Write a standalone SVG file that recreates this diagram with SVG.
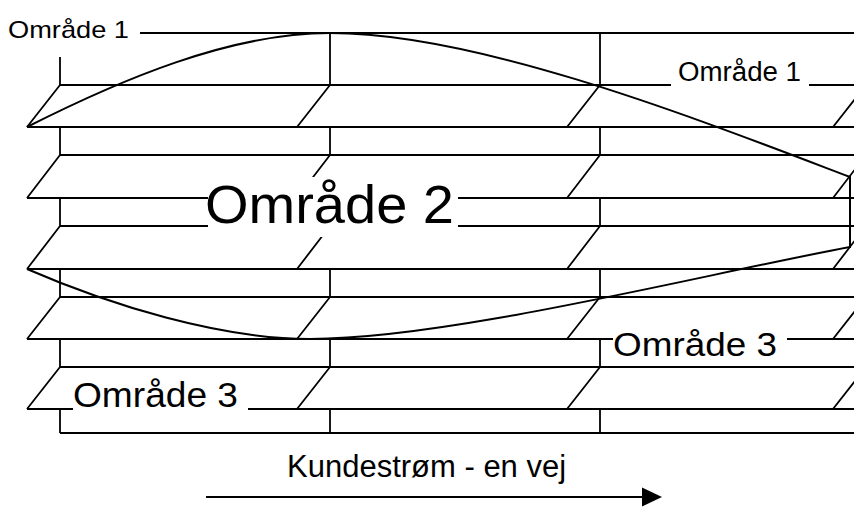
<svg xmlns="http://www.w3.org/2000/svg" width="854" height="509" viewBox="0 0 854 509">
<style>
.ln{stroke:#000;stroke-width:1.8;fill:none;stroke-linecap:butt}
.cv{stroke:#000;stroke-width:2;fill:none}
.knock{fill:#fff;stroke:none}
.lbl{font-family:"Liberation Sans",Arial,sans-serif;fill:#000}
</style>
<rect width="854" height="509" fill="#fff"/>
<g id="shelves">
<path class="ln" d="M140,33H854 M60,85H854 M27,127H854 M60,155H854 M27,198H854 M60,226H854 M27,269H854 M60,297H854 M27,339H854 M60,367H854 M27,409H854 M60,433H854"/>
<path class="ln" d="M60,57V85 M330,33V85 M600,33V85
M60,127V155 M60,198V226 M60,269V297 M60,339V367 M60,409V433
M330,127V155 M330,198V226 M330,269V297 M330,339V367 M330,409V433
M600,127V155 M600,198V226 M600,269V297 M600,339V367 M600,409V433"/>
<path class="ln" d="M60,85L27,127 M60,155L27,198 M60,226L27,269 M60,297L27,339 M60,367L27,409
M330,85L297,127 M330,155L297,198 M330,226L297,269 M330,297L297,339 M330,367L297,409
M600,85L567,127 M600,155L567,198 M600,226L567,269 M600,297L567,339 M600,367L567,409
M866,85L833,127 M866,155L833,198 M866,226L833,269 M866,297L833,339 M866,367L833,409"/>
</g>
<g id="areas">
<path class="cv" d="M27,127 C120,80 230,33 330,33 C480,33 700,120 850,177 V247 C700,275 450,339 310,339 C220,339 110,305 27,269"/>
</g>
<g id="label-omraade1-top">
<text class="lbl" x="8" y="38" font-size="24" textLength="121" lengthAdjust="spacingAndGlyphs">Område 1</text>
</g>
<g id="label-omraade1-right">
<rect class="knock" x="671" y="58" width="138" height="32"/>
<text class="lbl" x="678" y="81" font-size="27" textLength="123" lengthAdjust="spacingAndGlyphs">Område 1</text>
</g>
<g id="label-omraade2">
<rect class="knock" x="208" y="177" width="250" height="60"/>
<text class="lbl" x="205" y="222.5" font-size="54" textLength="249" lengthAdjust="spacingAndGlyphs">Område 2</text>
</g>
<g id="label-omraade3-right">
<rect class="knock" x="613" y="326" width="174" height="36"/>
<text class="lbl" x="613" y="355.5" font-size="34" textLength="164" lengthAdjust="spacingAndGlyphs">Område 3</text>
</g>
<g id="label-omraade3-left">
<rect class="knock" x="73" y="373" width="175" height="41"/>
<text class="lbl" x="73" y="407" font-size="35" textLength="165" lengthAdjust="spacingAndGlyphs">Område 3</text>
</g>
<g id="flow">
<text class="lbl" x="287" y="477" font-size="31">Kundestrøm - en vej</text>
<line class="ln" x1="206" y1="497" x2="645" y2="497"/>
<polygon points="642,487.5 662,497 642,506.5" fill="#000"/>
</g>
</svg>
